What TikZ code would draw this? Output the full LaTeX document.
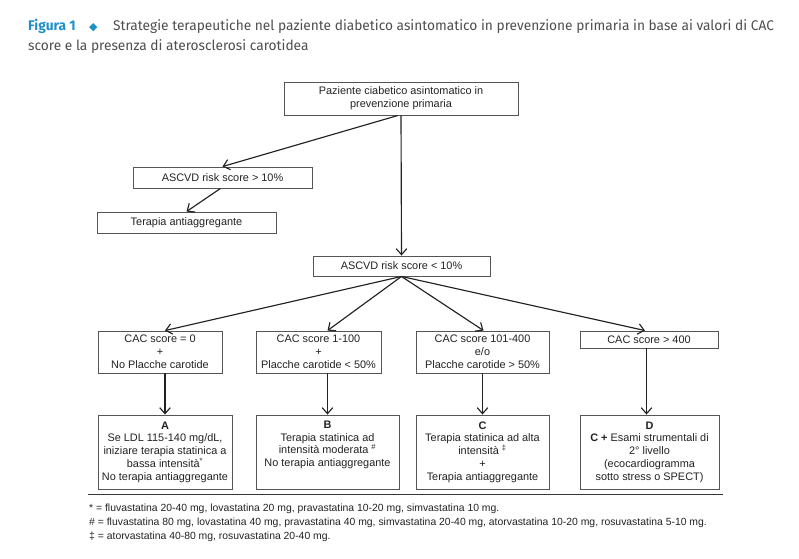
\documentclass[tikz,border=0pt]{standalone}
\usepackage{fontspec}
\setmainfont{Liberation Sans}
\newfontfamily\titlefont[FakeStretch=0.98]{Fira Sans}
\newfontfamily\djv{DejaVu Sans}
\usetikzlibrary{arrows.meta}
\definecolor{teal1}{HTML}{1E90C8}
\definecolor{ink}{HTML}{222222}
\definecolor{edge}{HTML}{555555}
\begin{document}
\begin{tikzpicture}[x=1pt,y=-1pt,
  box/.style={draw=edge, line width=0.9pt, inner sep=0pt, align=center, text=ink,
    font=\fontsize{10.9}{12.8}\selectfont},
  arr/.style={draw=ink, line width=1.15pt, -{Straight Barb[length=6pt,width=10.5pt,line width=1.15pt]}},
  ttl/.style={anchor=base west, inner sep=0pt},
  fn/.style={anchor=base west, inner sep=0pt, text=ink, font=\fontsize{10.4}{11}\selectfont}]
\useasboundingbox (0,0) rectangle (799,558);
% title
\node[ttl, text=teal1, font=\titlefont\fontsize{14}{15}\selectfont\bfseries] (fig) at (28,30) {Figura 1};
\node[ttl, text=teal1, font=\djv\fontsize{11}{12}\selectfont] (dia) at (89,30) {◆};
\node[ttl, text=ink!80, font=\titlefont\fontsize{14}{15}\selectfont] (t1) at (113,30) {Strategie terapeutiche nel paziente diabetico asintomatico in prevenzione primaria in base ai valori di CAC};
\node[ttl, text=ink!80, font=\titlefont\fontsize{14}{15}\selectfont] (t2) at (28,50) {score e la presenza di aterosclerosi carotidea};
% boxes
\node[box, minimum width=234pt, minimum height=33pt] (top) at (401,98.5) {Paziente ciabetico asintomatico in\\prevenzione primaria};
\node[box, minimum width=179pt, minimum height=21pt] (gt) at (222.5,177.5) {ASCVD risk score > 10\%};
\node[box, minimum width=179pt, minimum height=21pt] (ter) at (186.5,222.5) {Terapia antiaggregante};
\node[box, minimum width=177pt, minimum height=20pt] (lt) at (401.5,266) {ASCVD risk score < 10\%};
\node[box, minimum width=124pt, minimum height=42pt] (c0) at (160,352) {CAC score = 0\\+\\No Placche carotide};
\node[box, minimum width=125pt, minimum height=42pt] (c1) at (318.5,352) {CAC score 1-100\\+\\Placche carotide < 50\%};
\node[box, minimum width=133pt, minimum height=42pt] (c2) at (482.5,352) {CAC score 101-400\\e/o\\Placche carotide > 50\%};
\node[box, minimum width=138pt, minimum height=17pt] (c3) at (649,339.5) {CAC score > 400};
\node[box, minimum width=134pt, minimum height=74pt] (A) at (165,452) {\textbf{A}\\Se LDL 115-140 mg/dL,\\iniziare terapia statinica a\\bassa intensità\textsuperscript{*}\\No terapia antiaggregante};
\node[box, minimum width=143pt, minimum height=74pt] (B) at (327.5,452) {\textbf{B}\\Terapia statinica ad\\intensità moderata \textsuperscript{\#}\\No terapia antiaggregante\\\strut};
\node[box, minimum width=133pt, minimum height=74pt] (C) at (482.5,452) {\textbf{C}\\Terapia statinica ad alta\\intensità \textsuperscript{‡}\\+\\Terapia antiaggregante};
\node[box, minimum width=139pt, minimum height=74pt] (D) at (649.5,452) {\textbf{D}\\\textbf{C +} Esami strumentali di\\2° livello\\(ecocardiogramma\\sotto stress o SPECT)};
% connectors
\draw[arr] ([xshift=-3pt]top.south) -- (gt.north);
\draw[arr] ([xshift=-2pt]gt.south) -- (ter.north);
\draw[arr] (top.south) -- (lt.north);
\draw[arr] (lt.south) -- ([xshift=5pt]c0.north);
\draw[arr] (lt.south) -- ([xshift=9pt]c1.north);
\draw[arr] (lt.south) -- ([xshift=1pt]c2.north);
\draw[arr] (lt.south) -- ([xshift=-4pt]c3.north);
\draw[arr] (A.north |- c0.south) -- (A.north);
\draw[arr] (B.north |- c1.south) -- (B.north);
\draw[arr] (C.north |- c2.south) -- (C.north);
\draw[arr] ([xshift=-3pt]D.north |- c3.south) -- ([xshift=-3pt]D.north);
% rule and footnotes
\coordinate (r1) at (88,494.5);
\coordinate (r2) at (723,494.5);
\draw[draw=ink!90, line width=1.8pt] (r1) -- (r2);
\node[fn] (f1) at (89,511) {* = fluvastatina 20-40 mg, lovastatina 20 mg, pravastatina 10-20 mg, simvastatina 10 mg.};
\node[fn] (f2) at (89,525) {\# = fluvastatina 80 mg, lovastatina 40 mg, pravastatina 40 mg, simvastatina 20-40 mg, atorvastatina 10-20 mg, rosuvastatina 5-10 mg.};
\node[fn] (f3) at (89,539) {‡ = atorvastatina 40-80 mg, rosuvastatina 20-40 mg.};
\end{tikzpicture}
\end{document}
